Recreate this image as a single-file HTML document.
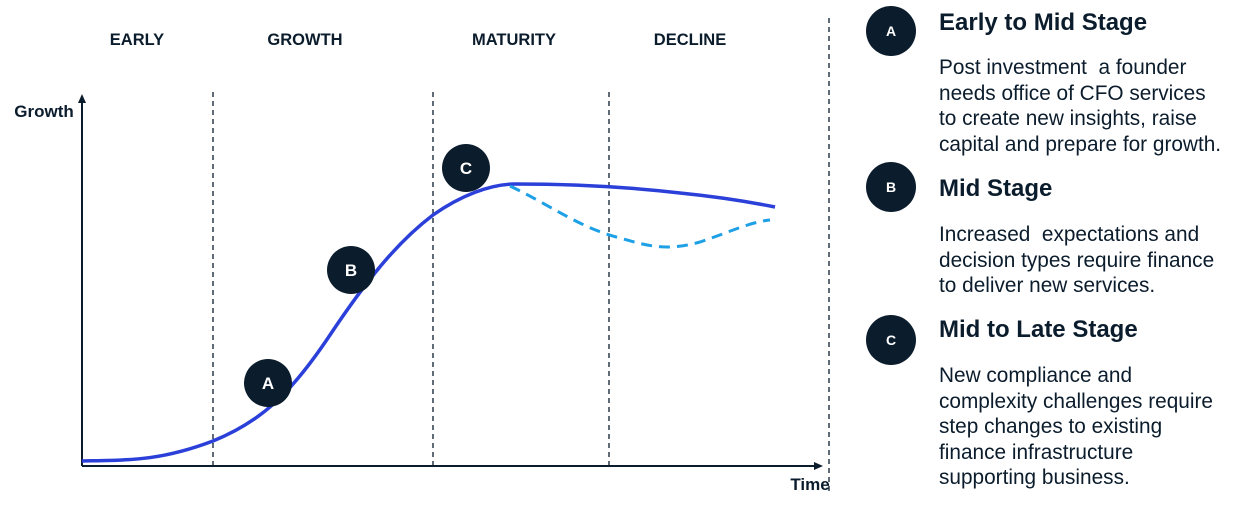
<!DOCTYPE html>
<html><head><style>
body{margin:0;width:1240px;height:505px;background:#fff;overflow:hidden;font-family:"Liberation Sans",sans-serif;color:#0b1c2c}
.t{position:absolute;left:939px;font-weight:bold;font-size:24px;color:#0b1c2c;white-space:nowrap}
.b{position:absolute;left:939px;font-size:20.8px;line-height:25.5px;color:#0b1c2c;white-space:nowrap}
</style></head><body>
<svg width="1240" height="505" style="position:absolute;left:0;top:0" font-family="Liberation Sans, sans-serif">
<g font-weight="bold" font-size="16.5" fill="#0b1c2c" text-anchor="middle">
<text x="137" y="45">EARLY</text><text x="305" y="45">GROWTH</text><text x="514" y="45">MATURITY</text><text x="690" y="45">DECLINE</text>
<text x="44" y="117" font-size="17">Growth</text><text x="810" y="490" font-size="17">Time</text>
</g>
<g stroke="#0b1c2c" stroke-width="1.3" stroke-dasharray="5,4">
<line x1="213" y1="92" x2="213" y2="465"/><line x1="433" y1="92" x2="433" y2="465"/><line x1="609" y1="92" x2="609" y2="465"/><line x1="829" y1="18" x2="829" y2="492"/>
</g>
<g stroke="#0b1c2c" stroke-width="2" fill="none">
<line x1="82" y1="98" x2="82" y2="466"/><line x1="82" y1="466" x2="816" y2="466"/>
</g>
<polygon points="82,94 78,103 86,103" fill="#0b1c2c"/>
<polygon points="823,466 814,462 814,470" fill="#0b1c2c"/>
<path d="M82,461 C130,460 160,461 213,441 C260,422 290,395 330,335 C370,275 400,240 433,215 C460,196 490,184 515,184 C560,184 620,186 680,193 C720,197 750,202 775,207" stroke="#2b3fd9" stroke-width="3.5" fill="none"/>
<path d="M510,186 C550,205 580,228 620,238 C645,245 665,252 700,242 C730,232 750,222 770,220" stroke="#1ea0e6" stroke-width="3" stroke-dasharray="11,7" fill="none"/>
<g fill="#0b1c2c"><circle cx="268" cy="383" r="24"/><circle cx="351" cy="270" r="24"/><circle cx="466" cy="168" r="24"/>
<circle cx="891" cy="31" r="25"/><circle cx="891" cy="187" r="25"/><circle cx="891" cy="340" r="25"/></g>
<g fill="#fff" font-weight="bold" text-anchor="middle">
<text x="268" y="389" font-size="17">A</text><text x="351" y="276" font-size="17">B</text><text x="466" y="174" font-size="17">C</text>
<text x="891" y="36" font-size="14">A</text><text x="891" y="192" font-size="14">B</text><text x="891" y="345" font-size="14">C</text>
</g>
</svg>
<div class="t" style="top:9px">Early to Mid Stage</div>
<div class="b" style="top:55px">Post investment&nbsp; a founder<br>needs office of CFO services<br>to create new insights, raise<br>capital and prepare for growth.</div>
<div class="t" style="top:175px">Mid Stage</div>
<div class="b" style="top:222px">Increased&nbsp; expectations and<br>decision types require finance<br>to deliver new services.</div>
<div class="t" style="top:316px">Mid to Late Stage</div>
<div class="b" style="top:363px">New compliance and<br>complexity challenges require<br>step changes to existing<br>finance infrastructure<br>supporting business.</div>
</body></html>
